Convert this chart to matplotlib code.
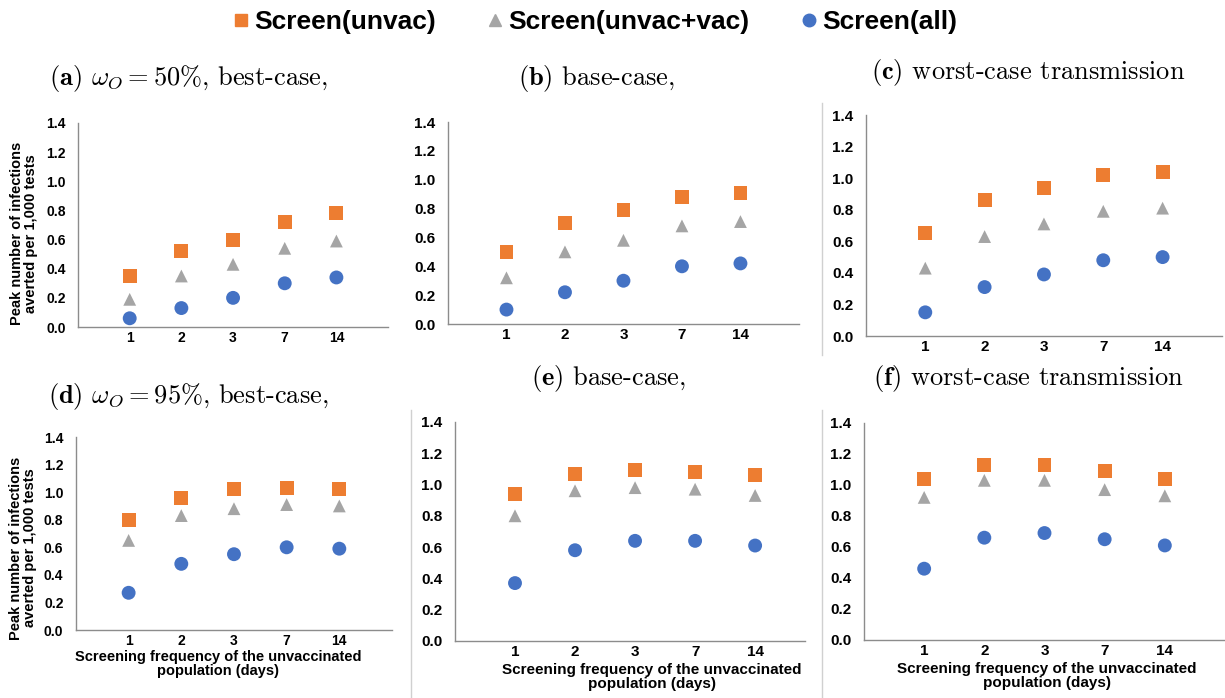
"""
Peak infections averted per 1,000 tests, six scenario panels.
"""

import matplotlib

matplotlib.use("Agg")

import matplotlib.pyplot as plt
from matplotlib.lines import Line2D


###############################################################################
# Data
###############################################################################

freq_labels = ["1", "2", "3", "7", "14"]

series_names = ["Screen(unvac)", "Screen(unvac+vac)", "Screen(all)"]

# (a) omega_O = 50%, best-case
unvac_a = [0.35, 0.52, 0.60, 0.72, 0.78]
mixed_a = [0.19, 0.35, 0.43, 0.54, 0.59]
all_a = [0.06, 0.13, 0.20, 0.30, 0.34]

# (b) omega_O = 50%, base-case
unvac_b = [0.50, 0.70, 0.79, 0.88, 0.91]
mixed_b = [0.32, 0.50, 0.58, 0.68, 0.71]
all_b = [0.10, 0.22, 0.30, 0.40, 0.42]

# (c) omega_O = 50%, worst-case
unvac_c = [0.65, 0.86, 0.94, 1.02, 1.04]
mixed_c = [0.43, 0.63, 0.71, 0.79, 0.81]
all_c = [0.15, 0.31, 0.39, 0.48, 0.50]

# (d) omega_O = 95%, best-case
unvac_d = [0.80, 0.96, 1.02, 1.03, 1.02]
mixed_d = [0.65, 0.83, 0.88, 0.91, 0.90]
all_d = [0.27, 0.48, 0.55, 0.60, 0.59]

# (e) omega_O = 95%, base-case
unvac_e = [0.94, 1.07, 1.09, 1.08, 1.06]
mixed_e = [0.80, 0.96, 0.98, 0.97, 0.93]
all_e = [0.37, 0.58, 0.64, 0.64, 0.61]

# (f) omega_O = 95%, worst-case
unvac_f = [1.04, 1.13, 1.13, 1.09, 1.04]
mixed_f = [0.92, 1.03, 1.03, 0.97, 0.93]
all_f = [0.46, 0.66, 0.69, 0.65, 0.61]

panel_titles = [
    r"$\mathbf{(a)}$ $\omega_O = 50\%$, best-case,",
    r"$\mathbf{(b)}$ base-case,",
    r"$\mathbf{(c)}$ worst-case transmission",
    r"$\mathbf{(d)}$ $\omega_O = 95\%$, best-case,",
    r"$\mathbf{(e)}$ base-case,",
    r"$\mathbf{(f)}$ worst-case transmission",
]

y_label = "Peak number of infections\naverted per 1,000 tests"
x_label = "Screening frequency of the unvaccinated\npopulation (days)"


###############################################################################
# Style
###############################################################################

plt.rcParams["font.family"] = ["Liberation Sans", "DejaVu Sans"]
plt.rcParams["mathtext.fontset"] = "cm"

COLORS = ["#ED7D31", "#A5A5A5", "#4472C4"]
MARKERS = ["s", "^", "o"]
SIZES = [100, 85, 100]
SPINE = "#8C8C8C"

# axes boxes in figure fraction: left, bottom, width, height
AXES_BOXES = [
    [0.0637, 0.5315, 0.2531, 0.2923],
    [0.3657, 0.5358, 0.2865, 0.2894],
    [0.7069, 0.5186, 0.2906, 0.3166],
    [0.0620, 0.0974, 0.2580, 0.2765],
    [0.3714, 0.0817, 0.2857, 0.3138],
    [0.7053, 0.0831, 0.2947, 0.3109],
]
X_MAX = [6, 6, 6, 6, 5.83, 6]
TICK_SIZE = [10, 11, 11, 10, 11, 11]

TITLE_POS = [
    (188, 78), (597, 78), (1028, 72),
    (188, 396), (608, 379), (1028, 379),
]


###############################################################################
# Panel
###############################################################################

def draw_panel(ax, values, idx):

    xs = range(1, len(freq_labels) + 1)

    for vals, color, marker, size, name in zip(
        values, COLORS, MARKERS, SIZES, series_names
    ):
        ax.scatter(
            xs, vals,
            s=size, marker=marker, color=color,
            edgecolors="none", label=name, zorder=3,
        )

    ax.set_xlim(0, X_MAX[idx])
    ax.set_ylim(0, 1.4)

    ax.set_xticks(list(xs))
    ax.set_xticklabels(freq_labels)
    ax.set_yticks([0, 0.2, 0.4, 0.6, 0.8, 1.0, 1.2, 1.4])
    ax.set_yticklabels([f"{v:.1f}" for v in ax.get_yticks()])

    for side in ["top", "right"]:
        ax.spines[side].set_visible(False)
    for side in ["left", "bottom"]:
        ax.spines[side].set_color(SPINE)
        ax.spines[side].set_linewidth(1.0)

    ax.tick_params(axis="y", length=0, pad=9, labelsize=TICK_SIZE[idx])
    ax.tick_params(axis="x", length=0, pad=3, labelsize=TICK_SIZE[idx])
    for lab in ax.get_xticklabels() + ax.get_yticklabels():
        lab.set_fontweight("bold")


###############################################################################
# Figure
###############################################################################

fig = plt.figure(figsize=(12.25, 6.98), dpi=100)

all_values = [
    [unvac_a, mixed_a, all_a],
    [unvac_b, mixed_b, all_b],
    [unvac_c, mixed_c, all_c],
    [unvac_d, mixed_d, all_d],
    [unvac_e, mixed_e, all_e],
    [unvac_f, mixed_f, all_f],
]

axes = []

for i, box in enumerate(AXES_BOXES):
    ax = fig.add_axes(box)
    draw_panel(ax, all_values[i], i)
    axes.append(ax)

# y labels on the left column (coordinate is the right edge of the label)
axes[0].set_ylabel(y_label, fontsize=10.5, fontweight="bold", linespacing=1.0)
axes[0].yaxis.set_label_coords(-0.128, 0.46)
axes[3].set_ylabel(y_label, fontsize=10.5, fontweight="bold", linespacing=1.0)
axes[3].yaxis.set_label_coords(-0.122, 0.425)

# x labels on the bottom row
label_pos = [(0.45, -0.104), (0.563, -0.1), (0.507, -0.1)]
for ax, (lx, ly), fs in zip(axes[3:], label_pos, [10.5, 11, 11]):
    ax.set_xlabel(x_label, fontsize=fs, fontweight="bold", linespacing=1.0,
                  va="top")
    ax.xaxis.set_label_coords(lx, ly)

# panel titles
for title, (px, py) in zip(panel_titles, TITLE_POS):
    fig.text(
        px / 1225, 1 - py / 698, title,
        ha="center", va="center",
        fontsize=19, family="cmr10",
    )

# separators
for x0, y0, y1 in [(822, 103, 355), (411, 410, 698), (822, 410, 698)]:
    fig.add_artist(Line2D(
        [x0 / 1225, x0 / 1225], [1 - y0 / 698, 1 - y1 / 698],
        color="#D0D0D0", linewidth=1.0,
    ))

# legend
legend_handles = [
    Line2D([], [], linestyle="none", marker=m, color=c, markersize=9)
    for m, c in zip(MARKERS, COLORS)
]
fig.legend(
    legend_handles, series_names,
    loc="center", bbox_to_anchor=(0.486, 0.968),
    ncol=3, frameon=False,
    handlelength=0.5, handletextpad=0.25, columnspacing=2.0,
    prop={"family": "Liberation Sans", "weight": "bold", "size": 19},
)

fig.savefig("out.png", dpi=100)
